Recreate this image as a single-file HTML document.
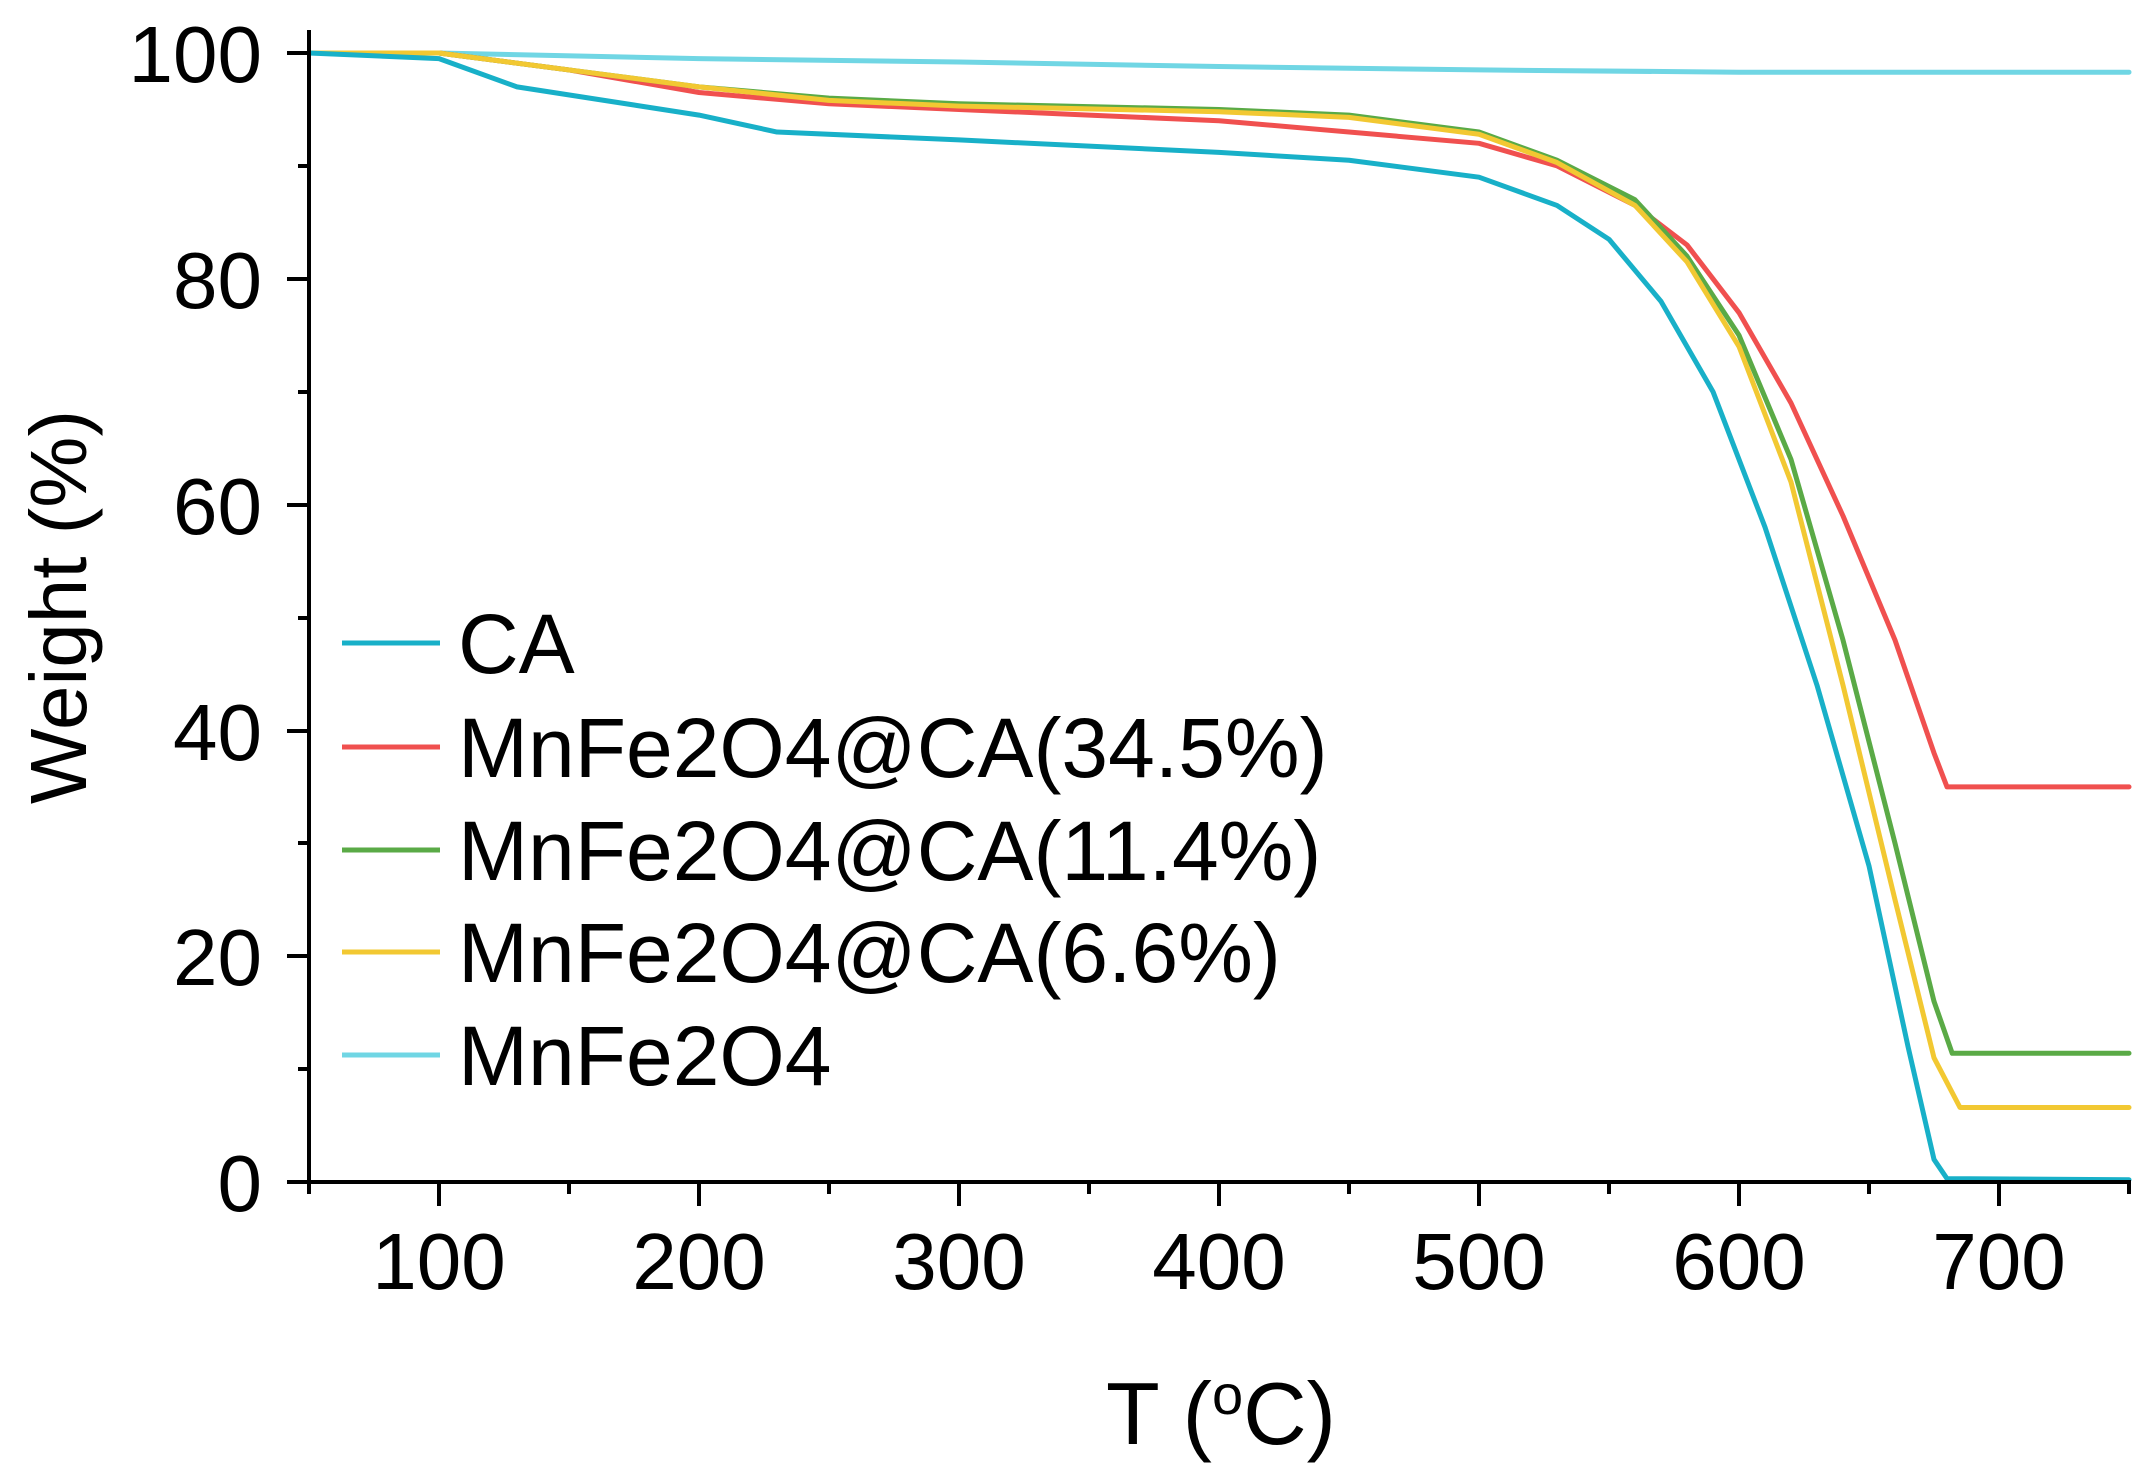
<!DOCTYPE html>
<html><head><meta charset="utf-8"><style>
html,body{margin:0;padding:0;background:#fff}
svg{display:block}
text{font-family:"Liberation Sans",Arial,sans-serif;fill:#000}
</style></head><body>
<svg width="2145" height="1473" viewBox="0 0 2145 1473" xmlns="http://www.w3.org/2000/svg">
<g fill="none" stroke-linejoin="round" stroke-linecap="round" transform="matrix(2.6 0 0 -11.29 179 1182)">
<polyline vector-effect="non-scaling-stroke" stroke="#70d6e4" stroke-width="5" points="50,100 100,100 200,99.5 300,99.2 400,98.8 500,98.5 600,98.3 750,98.3"/>
<polyline vector-effect="non-scaling-stroke" stroke="#f0504f" stroke-width="5" points="50,100 100,100 150,98.5 200,96.5 250,95.5 300,95 350,94.5 400,94 450,93 500,92 530,90 560,86.5 580,83 600,77 620,69 640,59 660,48 675,38 680,35 750,35"/>
<polyline vector-effect="non-scaling-stroke" stroke="#5aaa46" stroke-width="5" points="50,100 100,100 150,98.5 200,97 250,96 300,95.5 400,95 450,94.5 500,93 530,90.5 560,87 580,82 600,75 620,64 640,48 660,30 675,16 682,11.4 750,11.4"/>
<polyline vector-effect="non-scaling-stroke" stroke="#f2c832" stroke-width="5" points="50,100 100,100 150,98.5 200,97 250,95.8 300,95.3 400,94.8 450,94.3 500,92.8 530,90.3 560,86.5 580,81.5 600,74 620,62 640,44 660,25 675,11 685,6.6 750,6.6"/>
<polyline vector-effect="non-scaling-stroke" stroke="#18b0c8" stroke-width="5" points="50,100 100,99.5 130,97 200,94.5 230,93 300,92.3 400,91.2 450,90.5 500,89 530,86.5 550,83.5 570,78 590,70 610,58 630,44 650,28 665,12 675,2 680,0.3 750,0.2"/>
</g>
<g stroke="#000" stroke-width="4" fill="none">
<line x1="309" y1="30" x2="309" y2="1184"/>
<line x1="307" y1="1182" x2="2131" y2="1182"/>
<line x1="287" y1="53" x2="309" y2="53"/><line x1="287" y1="279" x2="309" y2="279"/><line x1="287" y1="505" x2="309" y2="505"/><line x1="287" y1="731" x2="309" y2="731"/><line x1="287" y1="956" x2="309" y2="956"/><line x1="287" y1="1182" x2="309" y2="1182"/>
<line x1="298" y1="166" x2="309" y2="166"/><line x1="298" y1="392" x2="309" y2="392"/><line x1="298" y1="618" x2="309" y2="618"/><line x1="298" y1="843" x2="309" y2="843"/><line x1="298" y1="1069" x2="309" y2="1069"/>
<line x1="439" y1="1182" x2="439" y2="1206"/><line x1="699" y1="1182" x2="699" y2="1206"/><line x1="959" y1="1182" x2="959" y2="1206"/><line x1="1219" y1="1182" x2="1219" y2="1206"/><line x1="1479" y1="1182" x2="1479" y2="1206"/><line x1="1739" y1="1182" x2="1739" y2="1206"/><line x1="1999" y1="1182" x2="1999" y2="1206"/>
<line x1="309" y1="1182" x2="309" y2="1194"/><line x1="569" y1="1182" x2="569" y2="1194"/><line x1="829" y1="1182" x2="829" y2="1194"/><line x1="1089" y1="1182" x2="1089" y2="1194"/><line x1="1349" y1="1182" x2="1349" y2="1194"/><line x1="1609" y1="1182" x2="1609" y2="1194"/><line x1="1869" y1="1182" x2="1869" y2="1194"/><line x1="2129" y1="1182" x2="2129" y2="1194"/>
</g>
<g font-size="80" text-anchor="end">
<text x="262" y="82">100</text><text x="262" y="308">80</text><text x="262" y="534">60</text><text x="262" y="760">40</text><text x="262" y="985">20</text><text x="262" y="1211">0</text>
</g>
<g font-size="80" text-anchor="middle">
<text x="439" y="1289">100</text><text x="699" y="1289">200</text><text x="959" y="1289">300</text><text x="1219" y="1289">400</text><text x="1479" y="1289">500</text><text x="1739" y="1289">600</text><text x="1999" y="1289">700</text>
<text x="1221" y="1444" font-size="88">T (<tspan font-size="56" dy="-30">o</tspan><tspan dy="30">C)</tspan></text>
<text transform="translate(86 607) rotate(-90)">Weight (%)</text>
</g>
<g stroke-width="5">
<line x1="342" y1="643" x2="440" y2="643" stroke="#18b0c8"/>
<line x1="342" y1="747" x2="440" y2="747" stroke="#f0504f"/>
<line x1="342" y1="850" x2="440" y2="850" stroke="#5aaa46"/>
<line x1="342" y1="952" x2="440" y2="952" stroke="#f2c832"/>
<line x1="342" y1="1055" x2="440" y2="1055" stroke="#70d6e4"/>
</g>
<g font-size="84">
<text x="458" y="673">CA</text>
<text x="458" y="777">MnFe2O4@CA(34.5%)</text>
<text x="458" y="880">MnFe2O4@CA(11.4%)</text>
<text x="458" y="982">MnFe2O4@CA(6.6%)</text>
<text x="458" y="1085">MnFe2O4</text>
</g>
</svg>
</body></html>
